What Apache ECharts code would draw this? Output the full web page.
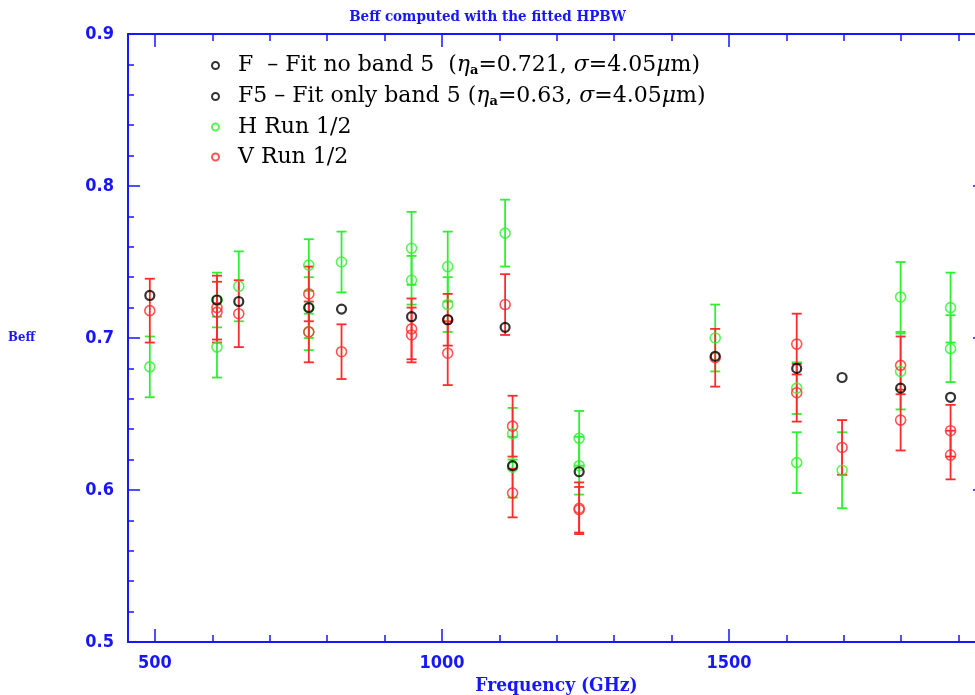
<!DOCTYPE html>
<html>
<head>
<meta charset="utf-8">
<script src="https://cdn.jsdelivr.net/npm/echarts@6/dist/echarts.min.js"></script>
<style>html,body{margin:0;padding:0;background:#fff}#c{width:975px;height:695px}</style>
</head>
<body>
<div id="c"></div>
<script>
// ---- data (frequency in GHz, Beff, error) ----
const fFreq = [491, 608, 646, 768, 825, 947, 1010, 1110, 1476, 1618, 1697, 1799, 1886];
const fVal  = [0.728, 0.725, 0.724, 0.720, 0.719, 0.714, 0.712, 0.707, 0.688, 0.680, 0.674, 0.667, 0.661];
const f5Freq = [1123, 1239];
const f5Val  = [0.616, 0.612];
const hFreq = [491, 608, 608, 646, 768, 768, 768, 825, 947, 947, 1010, 1010, 1110, 1123, 1123, 1239, 1239, 1476, 1618, 1618, 1697, 1799, 1799, 1886, 1886];
const hVal  = [0.681, 0.725, 0.694, 0.734, 0.748, 0.720, 0.704, 0.750, 0.759, 0.738, 0.747, 0.722, 0.769, 0.637, 0.615, 0.634, 0.616, 0.700, 0.667, 0.618, 0.613, 0.727, 0.678, 0.720, 0.693];
const hErr  = [0.020, 0.018, 0.020, 0.023, 0.017, 0.020, 0.012, 0.020, 0.024, 0.016, 0.023, 0.018, 0.022, 0.017, 0.020, 0.018, 0.019, 0.022, 0.017, 0.020, 0.025, 0.023, 0.025, 0.023, 0.022];
const vFreq = [491, 608, 608, 646, 768, 768, 825, 947, 947, 1010, 1010, 1110, 1123, 1123, 1239, 1239, 1476, 1618, 1618, 1697, 1799, 1799, 1886, 1886];
const vVal  = [0.718, 0.720, 0.717, 0.716, 0.729, 0.704, 0.691, 0.706, 0.702, 0.712, 0.690, 0.722, 0.642, 0.598, 0.588, 0.587, 0.687, 0.696, 0.664, 0.628, 0.682, 0.646, 0.639, 0.623];
const vErr  = [0.021, 0.021, 0.020, 0.022, 0.018, 0.020, 0.018, 0.020, 0.018, 0.017, 0.021, 0.020, 0.020, 0.016, 0.017, 0.015, 0.019, 0.020, 0.019, 0.018, 0.019, 0.020, 0.017, 0.016];
const xMajor = [500, 1000, 1500];
const xMinor = [500, 600, 700, 800, 900, 1000, 1100, 1200, 1300, 1400, 1500, 1600, 1700, 1800, 1900];
const titleText = 'Beff computed with the fitted HPBW';
const xName = 'Frequency (GHz)';
const yName = 'Beff';
const names = ['F', 'F5', 'H', 'V'];

const BLUE = '#1616ff', GREEN = '#2ef02e', RED = '#ff2a2a', BLACK = '#000000';
const X_MIN = 453, X_MAX = 1946;
const axisFont = '"DejaVu Sans Condensed", "DejaVu Sans", sans-serif';
const serifC = '"DejaVu Serif Condensed", "DejaVu Serif", serif';

function zip3(a, b, c) { return a.map((v, i) => [v, b[i], c[i]]); }
function zip2(a, b) { return a.map((v, i) => [v, b[i]]); }

function errBars(color) {
  return function (params, api) {
    const x = api.value(0), y = api.value(1), e = api.value(2);
    const t = api.coord([x, y + e]), b = api.coord([x, y - e]);
    const hw = 5;
    const st = { stroke: color, lineWidth: 1.8 };
    return { type: 'group', children: [
      { type: 'line', shape: { x1: t[0], y1: t[1], x2: b[0], y2: b[1] }, style: st },
      { type: 'line', shape: { x1: t[0] - hw, y1: t[1], x2: t[0] + hw, y2: t[1] }, style: st },
      { type: 'line', shape: { x1: b[0] - hw, y1: b[1], x2: b[0] + hw, y2: b[1] }, style: st }
    ]};
  };
}

function xAx(pos, ticks, len, withLine, labels) {
  return {
    type: 'value', min: X_MIN, max: X_MAX, position: pos,
    axisLine: { show: withLine, onZero: false, lineStyle: { color: BLUE, width: 2 } },
    axisTick: { show: true, inside: true, length: len, customValues: ticks, lineStyle: { color: BLUE, width: 1.5 } },
    axisLabel: labels ? { show: true, customValues: xMajor, color: BLUE, fontSize: 18, fontWeight: 'bold',
      fontFamily: axisFont, margin: 12, formatter: v => String(v) } : { show: false },
    splitLine: { show: false },
    name: labels ? xName : '', nameLocation: 'middle', nameGap: 34,
    nameTextStyle: { color: BLUE, fontSize: 19, fontWeight: 'bold', fontFamily: serifC }
  };
}
function yAx(pos, labels) {
  return {
    type: 'value', min: 0.5, max: 0.9, interval: 0.1, position: pos,
    axisLine: { show: true, onZero: false, lineStyle: { color: BLUE, width: 2 } },
    axisTick: { show: true, inside: true, length: 12, lineStyle: { color: BLUE, width: 1.5 } },
    minorTick: { show: true, splitNumber: 5, length: 6, lineStyle: { color: BLUE, width: 1.5 } },
    axisLabel: labels ? { show: true, color: BLUE, fontSize: 18, fontWeight: 'bold', fontFamily: axisFont, margin: 14,
      formatter: v => v.toFixed(1) } : { show: false },
    splitLine: { show: false },
    name: labels ? yName : '', nameLocation: 'middle', nameRotate: 0, nameGap: 93,
    nameTextStyle: { color: BLUE, fontSize: 13, fontWeight: 'bold', fontFamily: serifC }
  };
}

const rich = {
  n: { fontSize: 22, lineHeight: 22, fontFamily: '"DejaVu Serif", serif', color: '#000' },
  i: { fontSize: 22, lineHeight: 22, fontFamily: '"DejaVu Serif", serif', fontStyle: 'italic', color: '#000' },
  s: { fontSize: 13, lineHeight: 12, fontFamily: '"DejaVu Serif", serif', fontWeight: 'bold', color: '#000', padding: [10, 0, 0, 0] }
};
const legendLabels = {
  F: '{n|F  – Fit no band 5  (}{i|η}{s|a}{n|=0.721, }{i|σ}{n|=4.05}{i|μ}{n|m)}',
  F5: '{n|F5 – Fit only band 5 (}{i|η}{s|a}{n|=0.63, }{i|σ}{n|=4.05}{i|μ}{n|m)}',
  H: '{n|H Run 1/2}',
  V: '{n|V Run 1/2}'
};

const chart = echarts.init(document.getElementById('c'), null, { renderer: 'canvas' });
chart.setOption({
  animation: false,
  backgroundColor: '#fff',
  title: { text: titleText, left: 'center', top: 5,
    textStyle: { color: BLUE, fontSize: 15, fontWeight: 'bold', fontFamily: serifC } },
  grid: { left: 128, top: 34, width: 857, bottom: 53, outerBoundsMode: 'none', containLabel: false },
  legend: {
    data: names, orient: 'vertical', left: 206, top: 49, itemGap: 8,
    itemWidth: 7, itemHeight: 7, icon: 'circle',
    formatter: n => legendLabels[n],
    textStyle: { rich: rich, padding: [0, 0, 0, 14] }
  },
  xAxis: [xAx('bottom', xMajor, 13, true, true), xAx('bottom', xMinor, 7, false, false),
          xAx('top', xMajor, 13, true, false), xAx('top', xMinor, 7, false, false)],
  yAxis: [yAx('left', true), yAx('right', false)],
  series: [
    { type: 'custom', name: 'Herr', renderItem: errBars(GREEN), data: zip3(hFreq, hVal, hErr), encode: { x: 0, y: 1 }, z: 2 },
    { type: 'custom', name: 'Verr', renderItem: errBars(RED), data: zip3(vFreq, vVal, vErr), encode: { x: 0, y: 1 }, z: 2 },
    { type: 'scatter', name: 'H', data: zip2(hFreq, hVal), symbol: 'circle', symbolSize: 10,
      itemStyle: { color: 'rgba(0,0,0,0)', borderColor: GREEN, borderWidth: 1.6 }, z: 3 },
    { type: 'scatter', name: 'V', data: zip2(vFreq, vVal), symbol: 'circle', symbolSize: 10,
      itemStyle: { color: 'rgba(0,0,0,0)', borderColor: RED, borderWidth: 1.6 }, z: 4 },
    { type: 'scatter', name: 'F', data: zip2(fFreq, fVal), symbol: 'circle', symbolSize: 9,
      itemStyle: { color: 'rgba(0,0,0,0)', borderColor: BLACK, borderWidth: 2.2 }, z: 5 },
    { type: 'scatter', name: 'F5', data: zip2(f5Freq, f5Val), symbol: 'circle', symbolSize: 9,
      itemStyle: { color: 'rgba(0,0,0,0)', borderColor: BLACK, borderWidth: 2.2 }, z: 5 }
  ]
});
</script>
</body>
</html>
